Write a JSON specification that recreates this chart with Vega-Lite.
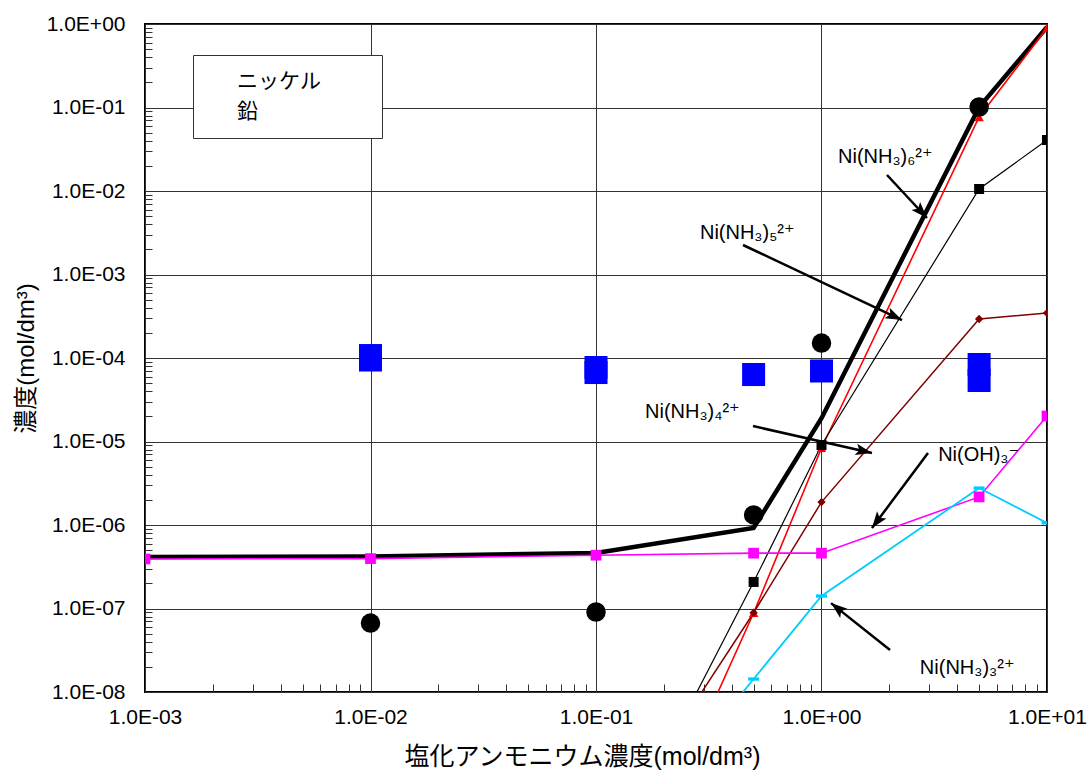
{
  "$schema": "https://vega.github.io/schema/vega-lite/v6.json",
  "width": 902,
  "height": 668,
  "autosize": "none",
  "padding": {"left": 145, "top": 24, "right": 41, "bottom": 81},
  "background": "white",
  "config": {
    "font": "Liberation Sans, Noto Sans CJK JP, sans-serif",
    "view": {"stroke": "black", "strokeWidth": 2},
    "axis": {"labelColor": "black", "titleColor": "black", "titleFontWeight": "normal"}
  },
  "datasets": {
    "model": [
      {"s": "total", "x": 0.001, "y": 4.14e-7},
      {"s": "total", "x": 0.01, "y": 4.2e-7},
      {"s": "total", "x": 0.1, "y": 4.62e-7},
      {"s": "total", "x": 0.5, "y": 9.2e-7},
      {"s": "total", "x": 1, "y": 1.9e-5},
      {"s": "total", "x": 5, "y": 0.101},
      {"s": "total", "x": 10, "y": 0.92},
      {"s": "n6", "x": 0.1, "y": 5.7e-12},
      {"s": "n6", "x": 0.5, "y": 8.83e-8},
      {"s": "n6", "x": 1, "y": 8.36e-6},
      {"s": "n6", "x": 5, "y": 0.0769},
      {"s": "n6", "x": 10, "y": 0.9},
      {"s": "n5", "x": 0.1, "y": 4.5e-11},
      {"s": "n5", "x": 0.5, "y": 2.08e-7},
      {"s": "n5", "x": 1, "y": 9.08e-6},
      {"s": "n5", "x": 5, "y": 0.01057},
      {"s": "n5", "x": 10, "y": 0.0408},
      {"s": "n4", "x": 0.1, "y": 1.15e-10},
      {"s": "n4", "x": 0.5, "y": 8.9e-8},
      {"s": "n4", "x": 1, "y": 1.88e-6},
      {"s": "n4", "x": 5, "y": 2.93e-4},
      {"s": "n4", "x": 10, "y": 3.46e-4},
      {"s": "oh", "x": 0.001, "y": 3.92e-7},
      {"s": "oh", "x": 0.01, "y": 3.96e-7},
      {"s": "oh", "x": 0.1, "y": 4.35e-7},
      {"s": "oh", "x": 0.5, "y": 4.6e-7},
      {"s": "oh", "x": 1, "y": 4.6e-7},
      {"s": "oh", "x": 5, "y": 2.17e-6},
      {"s": "oh", "x": 10, "y": 2.02e-5},
      {"s": "n3", "x": 0.1, "y": 7e-11},
      {"s": "n3", "x": 0.5, "y": 1.43e-8},
      {"s": "n3", "x": 1, "y": 1.41e-7},
      {"s": "n3", "x": 5, "y": 2.77e-6},
      {"s": "n3", "x": 10, "y": 1.06e-6}
    ],
    "measured": [
      {"metal": "ニッケル", "x": 0.01, "y": 6.7e-8},
      {"metal": "ニッケル", "x": 0.1, "y": 9.08e-8},
      {"metal": "ニッケル", "x": 0.5, "y": 1.32e-6},
      {"metal": "ニッケル", "x": 1, "y": 1.51e-4},
      {"metal": "ニッケル", "x": 5, "y": 0.1014},
      {"metal": "鉛", "x": 0.01, "y": 1.07e-4},
      {"metal": "鉛", "x": 0.01, "y": 9.46e-5},
      {"metal": "鉛", "x": 0.1, "y": 7.69e-5},
      {"metal": "鉛", "x": 0.1, "y": 6.7e-5},
      {"metal": "鉛", "x": 0.5, "y": 6.34e-5},
      {"metal": "鉛", "x": 1, "y": 6.99e-5},
      {"metal": "鉛", "x": 5, "y": 8.36e-5},
      {"metal": "鉛", "x": 5, "y": 5.38e-5}
    ],
    "notes": [
      {"label": "Ni(NH₃)₆²⁺", "x": 1.184, "y": 0.0255},
      {"label": "Ni(NH₃)₅²⁺", "x": 0.289, "y": 0.00314},
      {"label": "Ni(NH₃)₄²⁺", "x": 0.165, "y": 2.26e-5},
      {"label": "Ni(OH)₃⁻", "x": 3.29, "y": 6.9e-6},
      {"label": "Ni(NH₃)₃²⁺", "x": 2.73, "y": 1.94e-8}
    ],
    "arrows": [
      {"x1": 1.952, "y1": 0.01555, "x2": 2.936, "y2": 0.00475},
      {"x1": 0.4487, "y1": 0.002256, "x2": 2.275, "y2": 2.85e-4},
      {"x1": 0.4968, "y1": 1.53e-5, "x2": 1.674, "y2": 7.28e-6},
      {"x1": 2.967, "y1": 7.28e-6, "x2": 1.674, "y2": 9.2e-7},
      {"x1": 2.013, "y1": 3.18e-8, "x2": 1.102, "y2": 1.16e-7}
    ]
  },
  "layer": [
    {
      "data": {"name": "model"},
      "mark": {"type": "line", "clip": true},
      "encoding": {
        "x": {
          "field": "x", "type": "quantitative",
          "scale": {"type": "log", "domain": [0.001, 10], "nice": false},
          "axis": {
            "values": [0.001, 0.01, 0.1, 1, 10],
            "labelExpr": "'1.0E' + (datum.value < 1 ? '-' : '+') + (abs(round(log(datum.value)/LN10)) < 10 ? '0' : '') + abs(round(log(datum.value)/LN10))",
            "grid": true, "gridColor": "#333", "gridWidth": 1,
            "ticks": false, "tickSize": 0, "domain": false,
            "labelFontSize": 21, "labelPadding": 14, "labelFlush": false,
            "title": "塩化アンモニウム濃度(mol/dm³)", "titleFontSize": 25, "titlePadding": 17,
            "titleX": 437, "titleAlign": "center", "titleAnchor": "start"
          }
        },
        "y": {
          "field": "y", "type": "quantitative",
          "scale": {"type": "log", "domain": [1e-8, 1], "nice": false},
          "axis": {
            "values": [1e-8, 1e-7, 1e-6, 1e-5, 1e-4, 1e-3, 1e-2, 1e-1, 1],
            "labelExpr": "'1.0E' + (datum.value < 1 ? '-' : '+') + (abs(round(log(datum.value)/LN10)) < 10 ? '0' : '') + abs(round(log(datum.value)/LN10))",
            "grid": true, "gridColor": "#333", "gridWidth": 1,
            "ticks": false, "tickSize": 0, "domain": false,
            "labelFontSize": 21, "labelPadding": 20, "labelFlush": false,
            "title": "濃度(mol/dm³)", "titleFontSize": 24, "titlePadding": 8
          }
        },
        "color": {
          "field": "s", "type": "nominal", "legend": null,
          "scale": {"domain": ["total", "n6", "n5", "n4", "oh", "n3"], "range": ["#000000", "#FF0000", "#000000", "#800000", "#FF00FF", "#00CCFF"]}
        },
        "strokeWidth": {
          "field": "s", "type": "nominal", "legend": null,
          "scale": {"type": "ordinal", "domain": ["total", "n6", "n5", "n4", "oh", "n3"], "range": [4.5, 1.6, 1.2, 1.5, 1.6, 1.8]}
        }
      }
    },
    {
      "data": {"name": "model"},
      "mark": {"type": "point", "opacity": 0},
      "encoding": {
        "x": {
          "field": "x", "type": "quantitative",
          "scale": {"type": "log", "domain": [0.001, 10], "nice": false},
          "axis": {
            "orient": "bottom",
            "values": [0.002, 0.003, 0.004, 0.005, 0.006, 0.007, 0.008, 0.009, 0.02, 0.03, 0.04, 0.05, 0.06, 0.07, 0.08, 0.09, 0.2, 0.3, 0.4, 0.5, 0.6, 0.7, 0.8, 0.9, 2, 3, 4, 5, 6, 7, 8, 9],
            "labels": false, "grid": false, "domain": false, "title": null,
            "ticks": true, "tickSize": -8, "tickColor": "#333", "tickWidth": 1
          }
        },
        "y": {
          "field": "y", "type": "quantitative",
          "scale": {"type": "log", "domain": [1e-8, 1], "nice": false},
          "axis": {
            "orient": "left",
            "values": [2e-8, 3e-8, 4e-8, 5e-8, 6e-8, 7e-8, 8e-8, 9e-8, 2e-7, 3e-7, 4e-7, 5e-7, 6e-7, 7e-7, 8e-7, 9e-7, 2e-6, 3e-6, 4e-6, 5e-6, 6e-6, 7e-6, 8e-6, 9e-6, 2e-5, 3e-5, 4e-5, 5e-5, 6e-5, 7e-5, 8e-5, 9e-5, 2e-4, 3e-4, 4e-4, 5e-4, 6e-4, 7e-4, 8e-4, 9e-4, 2e-3, 3e-3, 4e-3, 5e-3, 6e-3, 7e-3, 8e-3, 9e-3, 0.02, 0.03, 0.04, 0.05, 0.06, 0.07, 0.08, 0.09, 0.2, 0.3, 0.4, 0.5, 0.6, 0.7, 0.8, 0.9],
            "labels": false, "grid": false, "domain": false, "title": null,
            "ticks": true, "tickSize": -7, "tickColor": "#333", "tickWidth": 1
          }
        }
      }
    },
    {
      "data": {"name": "model"},
      "transform": [{"filter": "datum.s != 'total'"}],
      "mark": {"type": "point", "filled": true, "opacity": 1, "clip": true},
      "encoding": {
        "x": {"field": "x", "type": "quantitative", "scale": {"type": "log", "domain": [0.001, 10], "nice": false}, "axis": null},
        "y": {"field": "y", "type": "quantitative", "scale": {"type": "log", "domain": [1e-8, 1], "nice": false}, "axis": null},
        "color": {
          "field": "s", "type": "nominal", "legend": null,
          "scale": {"domain": ["n6", "n5", "n4", "oh", "n3"], "range": ["#FF0000", "#000000", "#800000", "#FF00FF", "#00CCFF"]}
        },
        "shape": {
          "field": "s", "type": "nominal", "legend": null,
          "scale": {"domain": ["n6", "n5", "n4", "oh", "n3"], "range": ["triangle-up", "square", "diamond", "square", "M-1,-0.3L1,-0.3L1,0.3L-1,0.3Z"]}
        },
        "size": {
          "field": "s", "type": "nominal", "legend": null,
          "scale": {"type": "ordinal", "domain": ["n6", "n5", "n4", "oh", "n3"], "range": [90, 100, 70, 115, 121]}
        }
      }
    },
    {
      "data": {"name": "measured"},
      "mark": {"type": "point", "filled": true, "opacity": 1, "clip": true},
      "encoding": {
        "x": {"field": "x", "type": "quantitative", "scale": {"type": "log", "domain": [0.001, 10], "nice": false}, "axis": null},
        "y": {"field": "y", "type": "quantitative", "scale": {"type": "log", "domain": [1e-8, 1], "nice": false}, "axis": null},
        "color": {
          "field": "metal", "type": "nominal", "legend": null,
          "scale": {"domain": ["ニッケル", "鉛"], "range": ["#000000", "#0000FF"]}
        },
        "shape": {
          "field": "metal", "type": "nominal", "legend": null,
          "scale": {"domain": ["ニッケル", "鉛"], "range": ["circle", "square"]}
        },
        "size": {
          "field": "metal", "type": "nominal", "legend": null,
          "scale": {"type": "ordinal", "domain": ["ニッケル", "鉛"], "range": [380, 530]}
        }
      }
    },
    {
      "data": {"name": "measured"},
      "mark": {"type": "point", "filled": true, "opacity": 0},
      "encoding": {
        "x": {"field": "x", "type": "quantitative", "scale": {"type": "log", "domain": [0.001, 10], "nice": false}, "axis": null},
        "y": {"field": "y", "type": "quantitative", "scale": {"type": "log", "domain": [1e-8, 1], "nice": false}, "axis": null},
        "color": {
          "field": "metal", "type": "nominal",
          "scale": {"domain": ["ニッケル", "鉛"], "range": ["#000000", "#0000FF"]},
          "legend": {
            "orient": "none", "legendX": 48, "legendY": 31, "title": null,
            "symbolOpacity": 0, "symbolSize": 0, "symbolStrokeWidth": 0,
            "labelFontSize": 21, "labelFont": "Noto Sans CJK JP", "labelColor": "black",
            "padding": 16, "rowPadding": 8, "labelOffset": 7,
            "strokeColor": "#333", "fillColor": "white",
            "labelExpr": "datum.label + '\u2800\u2800\u2800'"
          }
        }
      }
    },
    {
      "data": {"name": "arrows"},
      "mark": {"type": "rule", "color": "black", "strokeWidth": 2.5},
      "encoding": {
        "x": {"field": "x1", "type": "quantitative", "scale": {"type": "log", "domain": [0.001, 10], "nice": false}, "axis": null},
        "y": {"field": "y1", "type": "quantitative", "scale": {"type": "log", "domain": [1e-8, 1], "nice": false}, "axis": null},
        "x2": {"field": "x2"},
        "y2": {"field": "y2"}
      }
    },
    {
      "data": {"name": "arrows"},
      "transform": [
        {"calculate": "atan2((log(datum.x2) - log(datum.x1)) / LN10 * 225.5, (log(datum.y2) - log(datum.y1)) / LN10 * 83.5) * 180 / PI", "as": "ang"}
      ],
      "mark": {"type": "point", "filled": true, "opacity": 1, "color": "black", "shape": "M0,0L0.5,1.4L0,1.1L-0.5,1.4Z", "size": 550},
      "encoding": {
        "x": {"field": "x2", "type": "quantitative", "scale": {"type": "log", "domain": [0.001, 10], "nice": false}, "axis": null},
        "y": {"field": "y2", "type": "quantitative", "scale": {"type": "log", "domain": [1e-8, 1], "nice": false}, "axis": null},
        "angle": {"field": "ang", "type": "quantitative", "scale": null}
      }
    },
    {
      "data": {"name": "notes"},
      "mark": {"type": "text", "align": "left", "baseline": "middle", "fontSize": 20, "font": "Liberation Sans, DejaVu Sans", "color": "black"},
      "encoding": {
        "x": {"field": "x", "type": "quantitative", "scale": {"type": "log", "domain": [0.001, 10], "nice": false}, "axis": null},
        "y": {"field": "y", "type": "quantitative", "scale": {"type": "log", "domain": [1e-8, 1], "nice": false}, "axis": null},
        "text": {"field": "label"}
      }
    }
  ],
  "resolve": {
    "scale": {"color": "independent", "shape": "independent", "size": "independent", "strokeWidth": "independent"},
    "axis": {"x": "independent", "y": "independent"}
  }
}
